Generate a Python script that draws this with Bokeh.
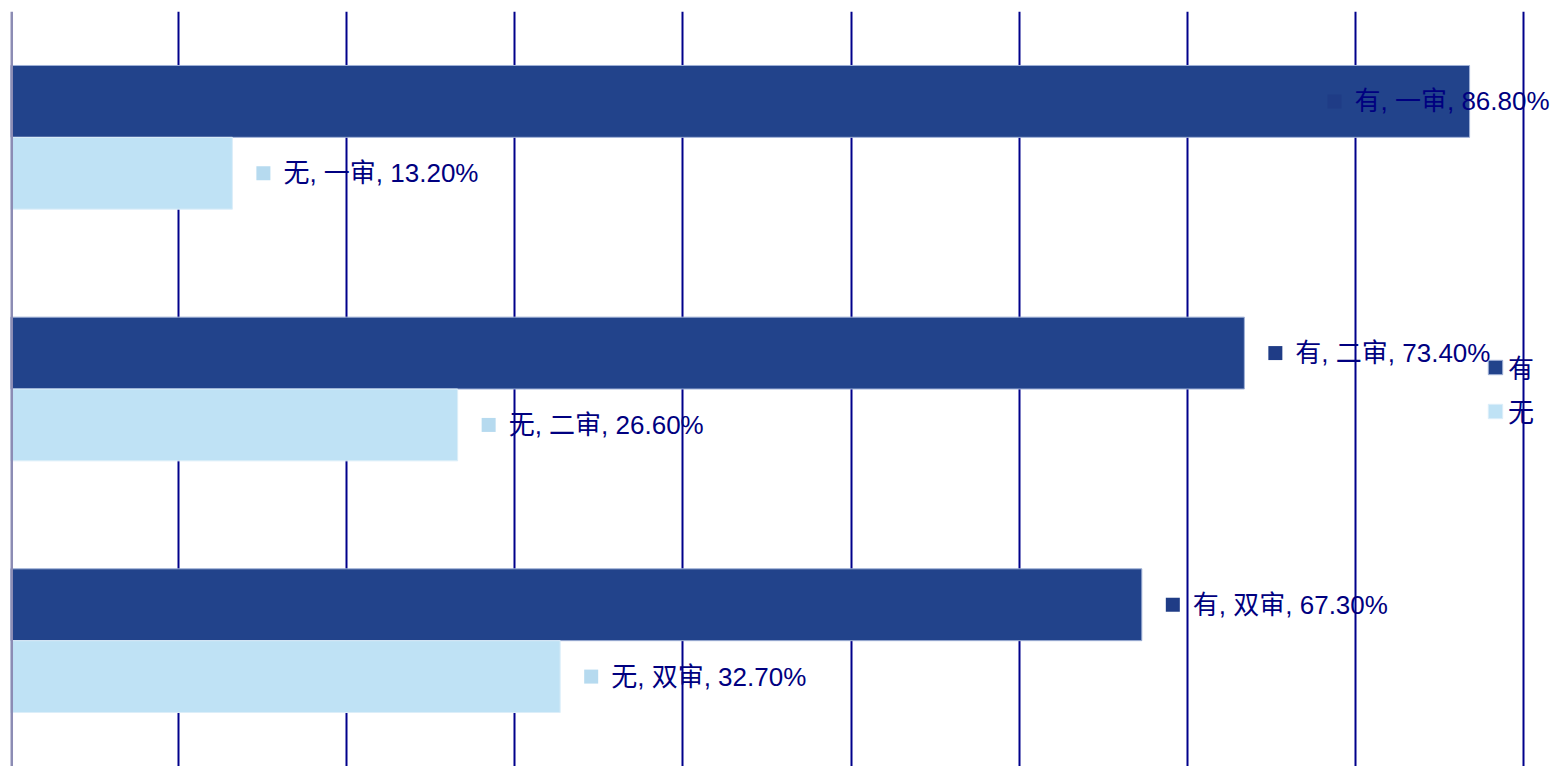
from bokeh.plotting import figure
from bokeh.models import ColumnDataSource, FactorRange, FixedTicker, Span, Legend, LegendItem
from bokeh.transform import dodge
from bokeh.core.properties import value
from bokeh.embed import file_html
from bokeh.resources import INLINE

# ---- data ----
categories = ["一审", "二审", "双审"]
series = ["有", "无"]
you_values = [86.80, 73.40, 67.30]
wu_values = [13.20, 26.60, 32.70]
grid_ticks = [10, 20, 30, 40, 50, 60, 70, 80, 90]

# ---- styles ----
C_YOU = "#22438B"
C_WU = "#BFE2F5"
C_TEXT = "#000080"
FONT = "Liberation Sans, Noto Sans CJK SC"

W, H = 1557, 766
BL, BT = 10, 11
frame_w = W - BL
ppu = 16.81
X_END = frame_w / ppu
BAR_H = 0.2855
OFF = BAR_H / 2

p = figure(width=W, height=H, x_range=(0, X_END),
           y_range=FactorRange(*reversed(categories)),
           output_backend="svg", toolbar_location=None,
           min_border_left=BL, min_border_right=0, min_border_top=BT, min_border_bottom=0)
p.axis.visible = False
p.outline_line_color = None
p.ygrid.visible = False
p.xgrid.ticker = FixedTicker(ticks=grid_ticks)
p.xgrid.grid_line_color = "#00008B"
p.xgrid.grid_line_width = 2
p.add_layout(Span(location=0.06, dimension="height", line_color="#8C8CB4", line_width=3,
                  level="overlay"))

LABEL_W_PX = 254
limit = (frame_w - LABEL_W_PX) / ppu


def make_source(name, vals):
    base = [min(v, limit) for v in vals]
    return ColumnDataSource(dict(
        cat=categories,
        val=vals,
        mx=[b + 31 / ppu for b in base],
        tx=[b + 51 / ppu for b in base],
        label=[f"{name}, {c}, {v:.2f}%" for c, v in zip(categories, vals)],
    ))


src_you = make_source(series[0], you_values)
src_wu = make_source(series[1], wu_values)

r_you = p.hbar(y=dodge("cat", OFF, range=p.y_range), right="val", left=0, height=BAR_H,
               source=src_you, fill_color=C_YOU, line_color="#9FB0D6", line_width=1)
r_wu = p.hbar(y=dodge("cat", -OFF, range=p.y_range), right="val", left=0, height=BAR_H,
              source=src_wu, fill_color=C_WU, line_color="#DCEEF9", line_width=1)

for src, off, col in [(src_you, OFF, "#1F3C86"), (src_wu, -OFF, "#B6DAEF")]:
    p.scatter(x="mx", y=dodge("cat", off, range=p.y_range), source=src, marker="square",
              size=14, fill_color=col, line_color=None)
    p.text(x="tx", y=dodge("cat", off, range=p.y_range), text="label", source=src,
           text_baseline="middle", text_align="left", text_font_size="26px",
           text_color=C_TEXT, text_font=value(FONT))

legend = Legend(items=[LegendItem(label=series[0], renderers=[r_you]),
                       LegendItem(label=series[1], renderers=[r_wu])],
                location=(1476, 337), padding=0, margin=0,
                background_fill_alpha=0, border_line_alpha=0,
                glyph_width=18, glyph_height=18, label_standoff=4, spacing=7,
                label_height=18, label_text_font_size="26px", label_text_color=C_TEXT,
                label_text_font=FONT)
p.add_layout(legend)

open("out.html", "w").write(file_html(p, INLINE))
